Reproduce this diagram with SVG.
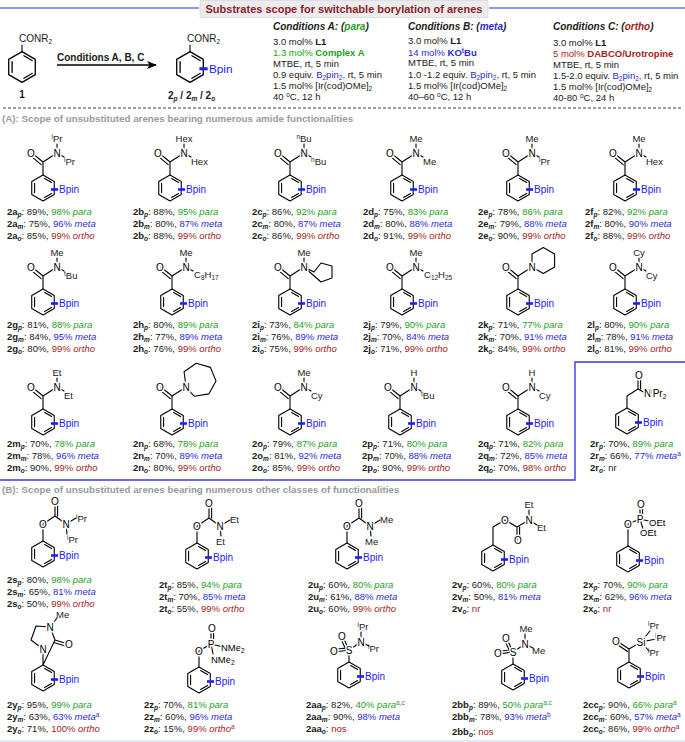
<svg xmlns="http://www.w3.org/2000/svg" xmlns:xlink="http://www.w3.org/1999/xlink" width="685" height="742" viewBox="0 0 685 742">
<style>
.b{stroke:#000;stroke-width:1.1;fill:none;stroke-linecap:round;stroke-linejoin:round}
.t{font-family:"Liberation Sans",Arial,sans-serif;font-size:9.5px;fill:#1a1a1a}
.a{font-family:"Liberation Sans",Arial,sans-serif;font-size:10px;fill:#000;text-anchor:middle;stroke:#fff;stroke-width:3;paint-order:stroke}
.as{font-family:"Liberation Sans",Arial,sans-serif;font-size:9.5px;fill:#000;stroke:#fff;stroke-width:3;paint-order:stroke}
.m{text-anchor:middle}
.bd{font-weight:bold}
.i{font-style:italic}
.s{font-size:6.5px}
.g{fill:#23a023}
.bl{fill:#2a2ad6}
.r{fill:#a31c1c}
.hd{font-family:"Liberation Sans",Arial,sans-serif;font-size:9.8px;font-weight:bold;fill:#9a9a9a}
</style>
<defs>
<g id="ring">
<polygon class="b" points="0,-13 11.26,-6.5 11.26,6.5 0,13 -11.26,6.5 -11.26,-6.5"/>
<path class="b" d="M1.6,-9.5L8.6,-5.5M1.6,9.5L8.6,5.5M-8.4,-4.6V4.6"/>
</g>
<g id="rb">
<use xlink:href="#ring"/>
<path d="M8,1.5H15" stroke="#2020ff" stroke-width="2.6"/>
<text class="t" x="16" y="5" style="fill:#2020ff;font-size:10px">Bpin</text>
</g>
<g id="amB"><path class="b" d="M0,-13V-26L14,-35M0,-26L-11,-35M-1.8,-23.4L-10.5,-30.6"/></g>
<g id="amA"><text class="a" x="-12" y="-31.5">O</text><text class="a" x="14" y="-31.5">N</text></g>
<g id="stT"><path class="b" d="M14,-35V-44"/></g>
<g id="stR"><path class="b" d="M14,-35L21,-31"/></g>
<g id="carbB"><path class="b" d="M0,-13V-30L12,-38L23,-30M12,-38V-51M14.6,-38V-50M23,-30L33,-36M23,-30L24,-20"/></g>
<g id="carbA"><text class="a" x="0" y="-26.5">O</text><text class="a" x="12" y="-49.5">O</text><text class="a" x="23" y="-26.5">N</text></g>
<g id="sulB"><path class="b" d="M0,-13V-25M0,-25L12,-33M0,-25L-14,-23M-1,-27.5L-14,-25.5M0,-25L-6,-38M-2.5,-24L-8.5,-37M12,-33V-43M12,-33L20,-29"/></g>
<g id="sulA"><text class="a" x="0" y="-21.5">S</text><text class="a" x="-15" y="-20">O</text><text class="a" x="-7" y="-35.5">O</text><text class="a" x="12" y="-29.5">N</text></g>
<marker id="arr" viewBox="0 0 10 8" refX="9" refY="4" markerWidth="10" markerHeight="8" markerUnits="userSpaceOnUse" orient="auto"><path d="M0,0L10,4L0,8L2.5,4Z" fill="#000"/></marker>
</defs>

<!-- header -->
<g id="title">
<path d="M0,8H199M489,8H685" stroke="#2233cc" stroke-width="1.2"/>
<rect x="200" y="0.5" width="288" height="17" fill="#ececec" stroke="#d0d0d0" stroke-width="0.6"/>
<text x="344" y="13" class="t m bd" style="font-size:11px;fill:#8b1d2c">Substrates scope for switchable borylation of arenes</text>
</g>
<g id="cmp1" transform="translate(22,67)">
<use xlink:href="#ring" transform="scale(1.18)"/>
<path class="b" d="M0,-15.3V-22"/>
<text class="t" x="-3" y="-25" style="font-size:10px">CONR<tspan class="s" dy="2">2</tspan></text>
<text class="t bd m" x="0" y="30.5" style="font-size:10px">1</text>
</g>
<g id="cmp2" transform="translate(190,67)">
<use xlink:href="#rb" transform="scale(1.18)"/>
<path class="b" d="M0,-15.3V-22"/>
<text class="t" x="-3" y="-25" style="font-size:10px">CONR<tspan class="s" dy="2">2</tspan></text>
<text class="t bd" x="-22" y="31.5" style="font-size:10px">2<tspan class="s i" dy="2">p</tspan><tspan dy="-2"> / 2</tspan><tspan class="s i" dy="2">m</tspan><tspan dy="-2"> / 2</tspan><tspan class="s i" dy="2">o</tspan></text>
</g>
<g id="connectors">
<path d="M57,65H156" stroke="#000" stroke-width="1.3" marker-end="url(#arr)"/>
</g>
<text class="t bd" x="57" y="60.5" style="font-size:10px">Conditions A, B, C</text>

<g id="condA" class="t">
<text x="273" y="29.5" class="bd i" style="font-size:10px">Conditions A: (<tspan class="g">para</tspan>)</text>
<text x="273" y="45">3.0 mol% <tspan class="bd">L1</tspan></text>
<text x="273" y="56" class="g">1.3 mol% <tspan class="bd">Complex A</tspan></text>
<text x="273" y="67">MTBE, rt, 5 min</text>
<text x="273" y="78">0.9 equiv. <tspan class="bl">B<tspan class="s" dy="2">2</tspan><tspan dy="-2">pin</tspan><tspan class="s" dy="2">2</tspan><tspan dy="-2">,</tspan></tspan> rt, 5 min</text>
<text x="273" y="89">1.5 mol% [Ir(cod)OMe]<tspan class="s" dy="2">2</tspan></text>
<text x="273" y="100">40 <tspan class="s" dy="-3">o</tspan><tspan dy="3">C, 12 h</tspan></text>
</g>
<g id="condB" class="t">
<text x="408" y="29.5" class="bd i" style="font-size:10px">Conditions B: (<tspan class="bl">meta</tspan>)</text>
<text x="408" y="44">3.0 mol% <tspan class="bd">L1</tspan></text>
<text x="408" y="56" class="bl">14 mol% <tspan class="bd">KO<tspan class="s" dy="-3">t</tspan><tspan dy="3">Bu</tspan></tspan></text>
<text x="408" y="66">MTBE, rt, 5 min</text>
<text x="408" y="78">1.0 -1.2 equiv. <tspan class="bl">B<tspan class="s" dy="2">2</tspan><tspan dy="-2">pin</tspan><tspan class="s" dy="2">2</tspan><tspan dy="-2">,</tspan></tspan> rt, 5 min</text>
<text x="408" y="89">1.5 mol% [Ir(cod)OMe]<tspan class="s" dy="2">2</tspan></text>
<text x="408" y="100">40–60 <tspan class="s" dy="-3">o</tspan><tspan dy="3">C, 12 h</tspan></text>
</g>
<g id="condC" class="t">
<text x="553" y="29.5" class="bd i" style="font-size:10px">Conditions C: (<tspan class="r">ortho</tspan>)</text>
<text x="553" y="46">3.0 mol% <tspan class="bd">L1</tspan></text>
<text x="553" y="57" class="r">5 mol% <tspan class="bd">DABCO/Urotropine</tspan></text>
<text x="553" y="68">MTBE, rt, 5 min</text>
<text x="553" y="79">1.5-2.0 equiv. <tspan class="bl">B<tspan class="s" dy="2">2</tspan><tspan dy="-2">pin</tspan><tspan class="s" dy="2">2</tspan><tspan dy="-2">,</tspan></tspan> rt, 5 min</text>
<text x="553" y="90">1.5 mol% [Ir(cod)OMe]<tspan class="s" dy="2">2</tspan></text>
<text x="553" y="101">40-80 <tspan class="s" dy="-3">o</tspan><tspan dy="3">C, 24 h</tspan></text>
</g>
<path d="M3,108H682" stroke="#444" stroke-width="1" stroke-dasharray="3,2"/>
<text class="hd" x="2" y="122">(A): Scope of unsubstituted arenes bearing numerous amide functionalities</text>
<path d="M0,480H575V362H685" fill="none" stroke="#3a3ae0" stroke-width="1.4"/>
<text class="hd" x="2" y="493">(B): Scope of unsubstituted arenes bearing numerous other classes of functionalities</text>
<path d="M0,741H685" stroke="#dde0f0" stroke-width="1.5"/>

<!-- Row A1 -->
<g id="c2a" transform="translate(43,188)"><use xlink:href="#rb"/><use xlink:href="#amB"/><use xlink:href="#stT"/><use xlink:href="#stR"/><use xlink:href="#amA"/>
<text class="t m" x="14" y="-46"><tspan class="s" dy="-3">i</tspan><tspan dy="3">Pr</tspan></text><text class="t" x="21" y="-23"><tspan class="s" dy="-3">i</tspan><tspan dy="3">Pr</tspan></text></g>
<g id="c2b" transform="translate(170,188)"><use xlink:href="#rb"/><use xlink:href="#amB"/><use xlink:href="#stT"/><use xlink:href="#stR"/><use xlink:href="#amA"/>
<text class="t m" x="14" y="-46">Hex</text><text class="t" x="21" y="-23">Hex</text></g>
<g id="c2c" transform="translate(290,188)"><use xlink:href="#rb"/><use xlink:href="#amB"/><use xlink:href="#stT"/><use xlink:href="#stR"/><use xlink:href="#amA"/>
<text class="t m" x="14" y="-46"><tspan class="s" dy="-3">n</tspan><tspan dy="3">Bu</tspan></text><text class="t" x="21" y="-23"><tspan class="s" dy="-3">n</tspan><tspan dy="3">Bu</tspan></text></g>
<g id="c2d" transform="translate(402,188)"><use xlink:href="#rb"/><use xlink:href="#amB"/><use xlink:href="#stT"/><use xlink:href="#stR"/><use xlink:href="#amA"/>
<text class="t m" x="14" y="-46">Me</text><text class="t" x="21" y="-23">Me</text></g>
<g id="c2e" transform="translate(518,188)"><use xlink:href="#rb"/><use xlink:href="#amB"/><use xlink:href="#stT"/><use xlink:href="#stR"/><use xlink:href="#amA"/>
<text class="t m" x="14" y="-46">Me</text><text class="t" x="21" y="-23"><tspan class="s" dy="-3">i</tspan><tspan dy="3">Pr</tspan></text></g>
<g id="c2f" transform="translate(625,188)"><use xlink:href="#rb"/><use xlink:href="#amB"/><use xlink:href="#stT"/><use xlink:href="#stR"/><use xlink:href="#amA"/>
<text class="t m" x="14" y="-46">Me</text><text class="t" x="21" y="-23">Hex</text></g>

<g id="lA1" class="t">
<text x="7" y="215"><tspan class="bd">2a<tspan class="s i" dy="2">p</tspan></tspan><tspan dy="-2">: 89%, </tspan><tspan class="g">98% <tspan class="i">para</tspan></tspan></text>
<text x="7" y="227"><tspan class="bd">2a<tspan class="s i" dy="2">m</tspan></tspan><tspan dy="-2">: 75%, </tspan><tspan class="bl">96% <tspan class="i">meta</tspan></tspan></text>
<text x="7" y="239"><tspan class="bd">2a<tspan class="s i" dy="2">o</tspan></tspan><tspan dy="-2">: 85%, </tspan><tspan class="r">99% <tspan class="i">ortho</tspan></tspan></text>
<text x="133" y="215"><tspan class="bd">2b<tspan class="s i" dy="2">p</tspan></tspan><tspan dy="-2">: 88%, </tspan><tspan class="g">95% <tspan class="i">para</tspan></tspan></text>
<text x="133" y="227"><tspan class="bd">2b<tspan class="s i" dy="2">m</tspan></tspan><tspan dy="-2">: 80%, </tspan><tspan class="bl">87% <tspan class="i">meta</tspan></tspan></text>
<text x="133" y="239"><tspan class="bd">2b<tspan class="s i" dy="2">o</tspan></tspan><tspan dy="-2">: 88%, </tspan><tspan class="r">99% <tspan class="i">ortho</tspan></tspan></text>
<text x="252" y="215"><tspan class="bd">2c<tspan class="s i" dy="2">p</tspan></tspan><tspan dy="-2">: 86%, </tspan><tspan class="g">92% <tspan class="i">para</tspan></tspan></text>
<text x="252" y="227"><tspan class="bd">2c<tspan class="s i" dy="2">m</tspan></tspan><tspan dy="-2">: 80%, </tspan><tspan class="bl">87% <tspan class="i">meta</tspan></tspan></text>
<text x="252" y="239"><tspan class="bd">2c<tspan class="s i" dy="2">o</tspan></tspan><tspan dy="-2">: 86%, </tspan><tspan class="r">99% <tspan class="i">ortho</tspan></tspan></text>
<text x="363" y="215"><tspan class="bd">2d<tspan class="s i" dy="2">p</tspan></tspan><tspan dy="-2">: 75%, </tspan><tspan class="g">83% <tspan class="i">para</tspan></tspan></text>
<text x="363" y="227"><tspan class="bd">2d<tspan class="s i" dy="2">m</tspan></tspan><tspan dy="-2">: 80%, </tspan><tspan class="bl">88% <tspan class="i">meta</tspan></tspan></text>
<text x="363" y="239"><tspan class="bd">2d<tspan class="s i" dy="2">o</tspan></tspan><tspan dy="-2">: 91%, </tspan><tspan class="r">99% <tspan class="i">ortho</tspan></tspan></text>
<text x="478" y="215"><tspan class="bd">2e<tspan class="s i" dy="2">p</tspan></tspan><tspan dy="-2">: 78%, </tspan><tspan class="g">86% <tspan class="i">para</tspan></tspan></text>
<text x="478" y="227"><tspan class="bd">2e<tspan class="s i" dy="2">m</tspan></tspan><tspan dy="-2">: 79%, </tspan><tspan class="bl">88% <tspan class="i">meta</tspan></tspan></text>
<text x="478" y="239"><tspan class="bd">2e<tspan class="s i" dy="2">o</tspan></tspan><tspan dy="-2">: 90%, </tspan><tspan class="r">99% <tspan class="i">ortho</tspan></tspan></text>
<text x="585" y="215"><tspan class="bd">2f<tspan class="s i" dy="2">p</tspan></tspan><tspan dy="-2">: 82%, </tspan><tspan class="g">92% <tspan class="i">para</tspan></tspan></text>
<text x="585" y="227"><tspan class="bd">2f<tspan class="s i" dy="2">m</tspan></tspan><tspan dy="-2">: 80%, </tspan><tspan class="bl">90% <tspan class="i">meta</tspan></tspan></text>
<text x="585" y="239"><tspan class="bd">2f<tspan class="s i" dy="2">o</tspan></tspan><tspan dy="-2">: 88%, </tspan><tspan class="r">99% <tspan class="i">ortho</tspan></tspan></text>
</g>

<!-- Row A2 -->
<g id="c2g" transform="translate(43,302)"><use xlink:href="#rb"/><use xlink:href="#amB"/><use xlink:href="#stT"/><use xlink:href="#stR"/><use xlink:href="#amA"/>
<text class="t m" x="14" y="-46">Me</text><text class="t" x="21" y="-23"><tspan class="s" dy="-3">t</tspan><tspan dy="3">Bu</tspan></text></g>
<g id="c2h" transform="translate(172,302)"><use xlink:href="#rb"/><use xlink:href="#amB"/><use xlink:href="#stT"/><use xlink:href="#stR"/><use xlink:href="#amA"/>
<text class="t m" x="14" y="-46">Me</text><text class="t" x="22" y="-24">C<tspan class="s" dy="2">8</tspan><tspan dy="-2">H</tspan><tspan class="s" dy="2">17</tspan></text></g>
<g id="c2i" transform="translate(290,302)"><use xlink:href="#rb"/><use xlink:href="#amB"/><use xlink:href="#stT"/>
<path class="b" d="M14,-35L24,-30L31,-39L42,-36L42,-24L31,-20Z"/><use xlink:href="#amA"/>
<text class="t m" x="14" y="-46">Me</text></g>
<g id="c2j" transform="translate(402,302)"><use xlink:href="#rb"/><use xlink:href="#amB"/><use xlink:href="#stT"/><use xlink:href="#stR"/><use xlink:href="#amA"/>
<text class="t m" x="14" y="-46">Me</text><text class="t" x="22" y="-24">C<tspan class="s" dy="2">12</tspan><tspan dy="-2">H</tspan><tspan class="s" dy="2">25</tspan></text></g>
<g id="c2k" transform="translate(518,302)"><use xlink:href="#rb"/><use xlink:href="#amB"/>
<polygon class="b" points="14,-35 14,-48 25.3,-54.5 36.6,-48 36.6,-35 25.3,-28.5"/><use xlink:href="#amA"/></g>
<g id="c2l" transform="translate(625,302)"><use xlink:href="#rb"/><use xlink:href="#amB"/><use xlink:href="#stT"/><use xlink:href="#stR"/><use xlink:href="#amA"/>
<text class="t m" x="14" y="-46">Cy</text><text class="t" x="21" y="-23">Cy</text></g>

<g id="lA2" class="t">
<text x="7" y="328"><tspan class="bd">2g<tspan class="s i" dy="2">p</tspan></tspan><tspan dy="-2">: 81%, </tspan><tspan class="g">88% <tspan class="i">para</tspan></tspan></text>
<text x="7" y="340"><tspan class="bd">2g<tspan class="s i" dy="2">m</tspan></tspan><tspan dy="-2">: 84%, </tspan><tspan class="bl">95% <tspan class="i">meta</tspan></tspan></text>
<text x="7" y="352"><tspan class="bd">2g<tspan class="s i" dy="2">o</tspan></tspan><tspan dy="-2">: 80%, </tspan><tspan class="r">99% <tspan class="i">ortho</tspan></tspan></text>
<text x="133" y="328"><tspan class="bd">2h<tspan class="s i" dy="2">p</tspan></tspan><tspan dy="-2">: 80%, </tspan><tspan class="g">89% <tspan class="i">para</tspan></tspan></text>
<text x="133" y="340"><tspan class="bd">2h<tspan class="s i" dy="2">m</tspan></tspan><tspan dy="-2">: 77%, </tspan><tspan class="bl">89% <tspan class="i">meta</tspan></tspan></text>
<text x="133" y="352"><tspan class="bd">2h<tspan class="s i" dy="2">o</tspan></tspan><tspan dy="-2">: 76%, </tspan><tspan class="r">99% <tspan class="i">ortho</tspan></tspan></text>
<text x="252" y="328"><tspan class="bd">2i<tspan class="s i" dy="2">p</tspan></tspan><tspan dy="-2">: 73%, </tspan><tspan class="g">84% <tspan class="i">para</tspan></tspan></text>
<text x="252" y="340"><tspan class="bd">2i<tspan class="s i" dy="2">m</tspan></tspan><tspan dy="-2">: 76%, </tspan><tspan class="bl">89% <tspan class="i">meta</tspan></tspan></text>
<text x="252" y="352"><tspan class="bd">2i<tspan class="s i" dy="2">o</tspan></tspan><tspan dy="-2">: 75%, </tspan><tspan class="r">99% <tspan class="i">ortho</tspan></tspan></text>
<text x="363" y="328"><tspan class="bd">2j<tspan class="s i" dy="2">p</tspan></tspan><tspan dy="-2">: 79%, </tspan><tspan class="g">90% <tspan class="i">para</tspan></tspan></text>
<text x="363" y="340"><tspan class="bd">2j<tspan class="s i" dy="2">m</tspan></tspan><tspan dy="-2">: 70%, </tspan><tspan class="bl">84% <tspan class="i">meta</tspan></tspan></text>
<text x="363" y="352"><tspan class="bd">2j<tspan class="s i" dy="2">o</tspan></tspan><tspan dy="-2">: 71%, </tspan><tspan class="r">99% <tspan class="i">ortho</tspan></tspan></text>
<text x="478" y="328"><tspan class="bd">2k<tspan class="s i" dy="2">p</tspan></tspan><tspan dy="-2">: 71%, </tspan><tspan class="g">77% <tspan class="i">para</tspan></tspan></text>
<text x="478" y="340"><tspan class="bd">2k<tspan class="s i" dy="2">m</tspan></tspan><tspan dy="-2">: 70%, </tspan><tspan class="bl">91% <tspan class="i">meta</tspan></tspan></text>
<text x="478" y="352"><tspan class="bd">2k<tspan class="s i" dy="2">o</tspan></tspan><tspan dy="-2">: 84%, </tspan><tspan class="r">99% <tspan class="i">ortho</tspan></tspan></text>
<text x="587" y="328"><tspan class="bd">2l<tspan class="s i" dy="2">p</tspan></tspan><tspan dy="-2">: 80%, </tspan><tspan class="g">90% <tspan class="i">para</tspan></tspan></text>
<text x="587" y="340"><tspan class="bd">2l<tspan class="s i" dy="2">m</tspan></tspan><tspan dy="-2">: 78%, </tspan><tspan class="bl">91% <tspan class="i">meta</tspan></tspan></text>
<text x="587" y="352"><tspan class="bd">2l<tspan class="s i" dy="2">o</tspan></tspan><tspan dy="-2">: 81%, </tspan><tspan class="r">99% <tspan class="i">ortho</tspan></tspan></text>
</g>

<!-- Row A3 -->
<g id="c2m" transform="translate(43,422)"><use xlink:href="#rb"/><use xlink:href="#amB"/><use xlink:href="#stT"/><use xlink:href="#stR"/><use xlink:href="#amA"/>
<text class="t m" x="14" y="-46">Et</text><text class="t" x="21" y="-23">Et</text></g>
<g id="c2n" transform="translate(172,422)"><use xlink:href="#rb"/><use xlink:href="#amB"/>
<polygon class="b" points="14,-35 12.1,-50.2 24.2,-58.8 38.4,-54.6 44,-41 36.8,-28.1 22.3,-25.7"/><use xlink:href="#amA"/></g>
<g id="c2o" transform="translate(290,422)"><use xlink:href="#rb"/><use xlink:href="#amB"/><use xlink:href="#stT"/><use xlink:href="#stR"/><use xlink:href="#amA"/>
<text class="t m" x="14" y="-46">Me</text><text class="t" x="21" y="-23">Cy</text></g>
<g id="c2p" transform="translate(400,422)"><use xlink:href="#rb"/><use xlink:href="#amB"/><use xlink:href="#stT"/><use xlink:href="#stR"/><use xlink:href="#amA"/>
<text class="t m" x="14" y="-46">H</text><text class="t" x="21" y="-23"><tspan class="s" dy="-3">t</tspan><tspan dy="3">Bu</tspan></text></g>
<g id="c2q" transform="translate(518,422)"><use xlink:href="#rb"/><use xlink:href="#amB"/><use xlink:href="#stT"/><use xlink:href="#stR"/><use xlink:href="#amA"/>
<text class="t m" x="14" y="-46">H</text><text class="t" x="21" y="-23">Cy</text></g>
<g id="c2r" transform="translate(627,421)"><use xlink:href="#rb"/>
<path class="b" d="M0,-13V-25L11,-32L20,-27M11,-32V-44M13.6,-32V-44"/>
<text class="a" x="12" y="-42">O</text>
<text class="as" x="17" y="-24" style="font-size:10px">N<tspan class="s" dy="-3">i</tspan><tspan dy="3">Pr</tspan><tspan class="s" dy="2">2</tspan></text></g>

<g id="lA3" class="t">
<text x="7" y="447"><tspan class="bd">2m<tspan class="s i" dy="2">p</tspan></tspan><tspan dy="-2">: 70%, </tspan><tspan class="g">78% <tspan class="i">para</tspan></tspan></text>
<text x="7" y="459"><tspan class="bd">2m<tspan class="s i" dy="2">m</tspan></tspan><tspan dy="-2">: 78%, </tspan><tspan class="bl">96% <tspan class="i">meta</tspan></tspan></text>
<text x="7" y="471"><tspan class="bd">2m<tspan class="s i" dy="2">o</tspan></tspan><tspan dy="-2">: 90%, </tspan><tspan class="r">99% <tspan class="i">ortho</tspan></tspan></text>
<text x="133" y="447"><tspan class="bd">2n<tspan class="s i" dy="2">p</tspan></tspan><tspan dy="-2">: 68%, </tspan><tspan class="g">78% <tspan class="i">para</tspan></tspan></text>
<text x="133" y="459"><tspan class="bd">2n<tspan class="s i" dy="2">m</tspan></tspan><tspan dy="-2">: 70%, </tspan><tspan class="bl">89% <tspan class="i">meta</tspan></tspan></text>
<text x="133" y="471"><tspan class="bd">2n<tspan class="s i" dy="2">o</tspan></tspan><tspan dy="-2">: 80%, </tspan><tspan class="r">99% <tspan class="i">ortho</tspan></tspan></text>
<text x="252" y="447"><tspan class="bd">2o<tspan class="s i" dy="2">p</tspan></tspan><tspan dy="-2">: 79%, </tspan><tspan class="g">87% <tspan class="i">para</tspan></tspan></text>
<text x="252" y="459"><tspan class="bd">2o<tspan class="s i" dy="2">m</tspan></tspan><tspan dy="-2">: 81%, </tspan><tspan class="bl">92% <tspan class="i">meta</tspan></tspan></text>
<text x="252" y="471"><tspan class="bd">2o<tspan class="s i" dy="2">o</tspan></tspan><tspan dy="-2">: 85%, </tspan><tspan class="r">99% <tspan class="i">ortho</tspan></tspan></text>
<text x="362" y="447"><tspan class="bd">2p<tspan class="s i" dy="2">p</tspan></tspan><tspan dy="-2">: 71%, </tspan><tspan class="g">80% <tspan class="i">para</tspan></tspan></text>
<text x="362" y="459"><tspan class="bd">2p<tspan class="s i" dy="2">m</tspan></tspan><tspan dy="-2">: 70%, </tspan><tspan class="bl">88% <tspan class="i">meta</tspan></tspan></text>
<text x="362" y="471"><tspan class="bd">2p<tspan class="s i" dy="2">o</tspan></tspan><tspan dy="-2">: 90%, </tspan><tspan class="r">99% <tspan class="i">ortho</tspan></tspan></text>
<text x="478" y="447"><tspan class="bd">2q<tspan class="s i" dy="2">p</tspan></tspan><tspan dy="-2">: 71%, </tspan><tspan class="g">82% <tspan class="i">para</tspan></tspan></text>
<text x="478" y="459"><tspan class="bd">2q<tspan class="s i" dy="2">m</tspan></tspan><tspan dy="-2">: 72%, </tspan><tspan class="bl">85% <tspan class="i">meta</tspan></tspan></text>
<text x="478" y="471"><tspan class="bd">2q<tspan class="s i" dy="2">o</tspan></tspan><tspan dy="-2">: 70%, </tspan><tspan class="r">98% <tspan class="i">ortho</tspan></tspan></text>
<text x="590" y="447"><tspan class="bd">2r<tspan class="s i" dy="2">p</tspan></tspan><tspan dy="-2">: 70%, </tspan><tspan class="g">89% <tspan class="i">para</tspan></tspan></text>
<text x="590" y="459"><tspan class="bd">2r<tspan class="s i" dy="2">m</tspan></tspan><tspan dy="-2">: 66%, </tspan><tspan class="bl">77% <tspan class="i">meta</tspan><tspan class="s" dy="-3">a</tspan></tspan></text>
<text x="590" y="471"><tspan class="bd">2r<tspan class="s i" dy="2">o</tspan></tspan><tspan dy="-2">: nr</tspan></text>
</g>

<!-- Row B1 -->
<g id="c2s" transform="translate(43,554)"><use xlink:href="#rb"/><use xlink:href="#carbB"/><use xlink:href="#carbA"/>
<text class="t" x="33" y="-32"><tspan class="s" dy="-3">i</tspan><tspan dy="3">Pr</tspan></text><text class="t" x="24" y="-11.5"><tspan class="s" dy="-3">i</tspan><tspan dy="3">Pr</tspan></text></g>
<g id="c2t" transform="translate(197,556)"><use xlink:href="#rb"/><use xlink:href="#carbB"/><use xlink:href="#carbA"/>
<text class="t" x="33" y="-33">Et</text><text class="t" x="19" y="-11.5">Et</text></g>
<g id="c2u" transform="translate(347,556)"><use xlink:href="#rb"/><use xlink:href="#carbB"/><use xlink:href="#carbA"/>
<text class="t" x="33" y="-33">Me</text><text class="t" x="18" y="-11.5">Me</text></g>
<g id="c2v" transform="translate(493,558)"><use xlink:href="#rb"/>
<path class="b" d="M0,-13V-31L12,-38L24,-31L36,-38M24,-31V-18M26.6,-31V-19M36,-38V-48M36,-38L44,-33"/>
<text class="a" x="12" y="-34.5">O</text><text class="a" x="25" y="-14.5">O</text><text class="a" x="36" y="-34.5">N</text>
<text class="t m" x="36" y="-50">Et</text><text class="t" x="44" y="-27">Et</text></g>
<g id="c2x" transform="translate(628,559)"><use xlink:href="#rb"/>
<path class="b" d="M0,-13V-35L12,-40L25,-37M12,-40V-52M14.6,-40V-52M12,-40L15,-30"/>
<text class="a" x="0" y="-31.5">O</text><text class="a" x="12" y="-36.5">P</text><text class="a" x="13" y="-51.5">O</text>
<text class="as" x="21" y="-33.5">OEt</text><text class="as" x="12" y="-23.5">OEt</text></g>

<g id="lB1" class="t">
<text x="7" y="583"><tspan class="bd">2s<tspan class="s i" dy="2">p</tspan></tspan><tspan dy="-2">: 80%, </tspan><tspan class="g">98% <tspan class="i">para</tspan></tspan></text>
<text x="7" y="595"><tspan class="bd">2s<tspan class="s i" dy="2">m</tspan></tspan><tspan dy="-2">: 65%, </tspan><tspan class="bl">81% <tspan class="i">meta</tspan></tspan></text>
<text x="7" y="607"><tspan class="bd">2s<tspan class="s i" dy="2">o</tspan></tspan><tspan dy="-2">: 50%, </tspan><tspan class="r">99% <tspan class="i">ortho</tspan></tspan></text>
<text x="159" y="588"><tspan class="bd">2t<tspan class="s i" dy="2">p</tspan></tspan><tspan dy="-2">: 85%, </tspan><tspan class="g">94% <tspan class="i">para</tspan></tspan></text>
<text x="159" y="600"><tspan class="bd">2t<tspan class="s i" dy="2">m</tspan></tspan><tspan dy="-2">: 70%, </tspan><tspan class="bl">85% <tspan class="i">meta</tspan></tspan></text>
<text x="159" y="612"><tspan class="bd">2t<tspan class="s i" dy="2">o</tspan></tspan><tspan dy="-2">: 55%, </tspan><tspan class="r">99% <tspan class="i">ortho</tspan></tspan></text>
<text x="308" y="588"><tspan class="bd">2u<tspan class="s i" dy="2">p</tspan></tspan><tspan dy="-2">: 60%, </tspan><tspan class="g">80% <tspan class="i">para</tspan></tspan></text>
<text x="308" y="600"><tspan class="bd">2u<tspan class="s i" dy="2">m</tspan></tspan><tspan dy="-2">: 61%, </tspan><tspan class="bl">88% <tspan class="i">meta</tspan></tspan></text>
<text x="308" y="612"><tspan class="bd">2u<tspan class="s i" dy="2">o</tspan></tspan><tspan dy="-2">: 60%, </tspan><tspan class="r">99% <tspan class="i">ortho</tspan></tspan></text>
<text x="452" y="588"><tspan class="bd">2v<tspan class="s i" dy="2">p</tspan></tspan><tspan dy="-2">: 60%, </tspan><tspan class="g">80% <tspan class="i">para</tspan></tspan></text>
<text x="452" y="600"><tspan class="bd">2v<tspan class="s i" dy="2">m</tspan></tspan><tspan dy="-2">: 50%, </tspan><tspan class="bl">81% <tspan class="i">meta</tspan></tspan></text>
<text x="452" y="612"><tspan class="bd">2v<tspan class="s i" dy="2">o</tspan></tspan><tspan dy="-2">: </tspan><tspan class="r">nr</tspan></text>
<text x="583" y="588"><tspan class="bd">2x<tspan class="s i" dy="2">p</tspan></tspan><tspan dy="-2">: 70%, </tspan><tspan class="g">90% <tspan class="i">para</tspan></tspan></text>
<text x="583" y="600"><tspan class="bd">2x<tspan class="s i" dy="2">m</tspan></tspan><tspan dy="-2">: 62%, </tspan><tspan class="bl">96% <tspan class="i">meta</tspan></tspan></text>
<text x="583" y="612"><tspan class="bd">2x<tspan class="s i" dy="2">o</tspan></tspan><tspan dy="-2">: </tspan><tspan class="r">nr</tspan></text>
</g>

<!-- Row B2 -->
<g id="c2y" transform="translate(43,678)"><use xlink:href="#rb"/>
<path class="b" d="M0,-13V-29L-12,-38L-7,-52L7,-51L12,-38Z M12,-38L25,-34M11.5,-35.2L24,-31.5M7,-51L14,-60"/>
<text class="a" x="0" y="-25.5">N</text><text class="a" x="7" y="-47.5">N</text><text class="a" x="26" y="-30.5">O</text>
<text class="t" x="13" y="-60">Me</text></g>
<g id="c2z" transform="translate(199,680)"><use xlink:href="#rb"/>
<path class="b" d="M0,-13V-29L12,-36L24,-33M12,-36V-49M14.6,-36V-49M12,-36L14,-26"/>
<text class="a" x="0" y="-25.5">O</text><text class="a" x="12" y="-32.5">P</text><text class="a" x="13" y="-48.5">O</text>
<text class="as" x="22" y="-29.5">NMe<tspan class="s" dy="2">2</tspan></text><text class="as" x="12" y="-17.5">NMe<tspan class="s" dy="2">2</tspan></text></g>
<g id="c2aa" transform="translate(349,675)"><use xlink:href="#rb"/><use xlink:href="#sulB"/><use xlink:href="#sulA"/>
<text class="t m" x="14" y="-45"><tspan class="s" dy="-3">i</tspan><tspan dy="3">Pr</tspan></text><text class="t" x="19" y="-23"><tspan class="s" dy="-3">i</tspan><tspan dy="3">Pr</tspan></text></g>
<g id="c2bb" transform="translate(513,677)"><use xlink:href="#rb"/><use xlink:href="#sulB"/><use xlink:href="#sulA"/>
<text class="t m" x="13" y="-45">Me</text><text class="t" x="19" y="-23">Me</text></g>
<g id="c2cc" transform="translate(629,675)"><use xlink:href="#rb"/>
<path class="b" d="M0,-13V-26L-12,-34M-1.5,-23.5L-12.5,-31M0,-26L12,-33M12,-33L21,-44M12,-33L27,-36M12,-33L20,-24"/>
<text class="a" x="-13" y="-30.5">O</text><text class="a" x="12" y="-29.5">Si</text>
<text class="t" x="19" y="-46"><tspan class="s" dy="-3">i</tspan><tspan dy="3">Pr</tspan></text>
<text class="as" x="26" y="-34.5"><tspan class="s" dy="-3">i</tspan><tspan dy="3">Pr</tspan></text>
<text class="t" x="19" y="-19.5"><tspan class="s" dy="-3">i</tspan><tspan dy="3">Pr</tspan></text></g>

<g id="lB2" class="t">
<text x="7" y="708"><tspan class="bd">2y<tspan class="s i" dy="2">p</tspan></tspan><tspan dy="-2">: 95%, </tspan><tspan class="g">99% <tspan class="i">para</tspan></tspan></text>
<text x="7" y="720"><tspan class="bd">2y<tspan class="s i" dy="2">m</tspan></tspan><tspan dy="-2">: 63%, </tspan><tspan class="bl">63% <tspan class="i">meta</tspan><tspan class="s" dy="-3">a</tspan></tspan></text>
<text x="7" y="732"><tspan class="bd">2y<tspan class="s i" dy="2">o</tspan></tspan><tspan dy="-2">: 71%, </tspan><tspan class="r">100% <tspan class="i">ortho</tspan></tspan></text>
<text x="144" y="708"><tspan class="bd">2z<tspan class="s i" dy="2">p</tspan></tspan><tspan dy="-2">: 70%, </tspan><tspan class="g">81% <tspan class="i">para</tspan></tspan></text>
<text x="144" y="720"><tspan class="bd">2z<tspan class="s i" dy="2">m</tspan></tspan><tspan dy="-2">: 60%, </tspan><tspan class="bl">96% <tspan class="i">meta</tspan></tspan></text>
<text x="144" y="732"><tspan class="bd">2z<tspan class="s i" dy="2">o</tspan></tspan><tspan dy="-2">: 15%, </tspan><tspan class="r">99% <tspan class="i">ortho</tspan><tspan class="s" dy="-3">a</tspan></tspan></text>
<text x="306" y="708"><tspan class="bd">2aa<tspan class="s i" dy="2">p</tspan></tspan><tspan dy="-2">: 82%, </tspan><tspan class="g">40% <tspan class="i">para</tspan><tspan class="s" dy="-3">a,c</tspan></tspan></text>
<text x="306" y="720"><tspan class="bd">2aa<tspan class="s i" dy="2">m</tspan></tspan><tspan dy="-2">: 90%, </tspan><tspan class="bl">98% <tspan class="i">meta</tspan></tspan></text>
<text x="306" y="732"><tspan class="bd">2aa<tspan class="s i" dy="2">o</tspan></tspan><tspan dy="-2">: </tspan><tspan class="r">nos</tspan></text>
<text x="452" y="708"><tspan class="bd">2bb<tspan class="s i" dy="2">p</tspan></tspan><tspan dy="-2">: 89%, </tspan><tspan class="g">50% <tspan class="i">para</tspan><tspan class="s" dy="-3">a,c</tspan></tspan></text>
<text x="452" y="720"><tspan class="bd">2bb<tspan class="s i" dy="2">m</tspan></tspan><tspan dy="-2">: 78%, </tspan><tspan class="bl">93% <tspan class="i">meta</tspan><tspan class="s" dy="-3">b</tspan></tspan></text>
<text x="452" y="735"><tspan class="bd">2bb<tspan class="s i" dy="2">o</tspan></tspan><tspan dy="-2">: </tspan><tspan class="r">nos</tspan></text>
<text x="583" y="708"><tspan class="bd">2cc<tspan class="s i" dy="2">p</tspan></tspan><tspan dy="-2">: 90%, </tspan><tspan class="g">66% <tspan class="i">para</tspan><tspan class="s" dy="-3">a</tspan></tspan></text>
<text x="583" y="720"><tspan class="bd">2cc<tspan class="s i" dy="2">m</tspan></tspan><tspan dy="-2">: 60%, </tspan><tspan class="bl">57% <tspan class="i">meta</tspan><tspan class="s" dy="-3">a</tspan></tspan></text>
<text x="583" y="732"><tspan class="bd">2cc<tspan class="s i" dy="2">o</tspan></tspan><tspan dy="-2">: 86%, </tspan><tspan class="r">99% <tspan class="i">ortho</tspan><tspan class="s" dy="-3">a</tspan></tspan></text>
</g>
</svg>
